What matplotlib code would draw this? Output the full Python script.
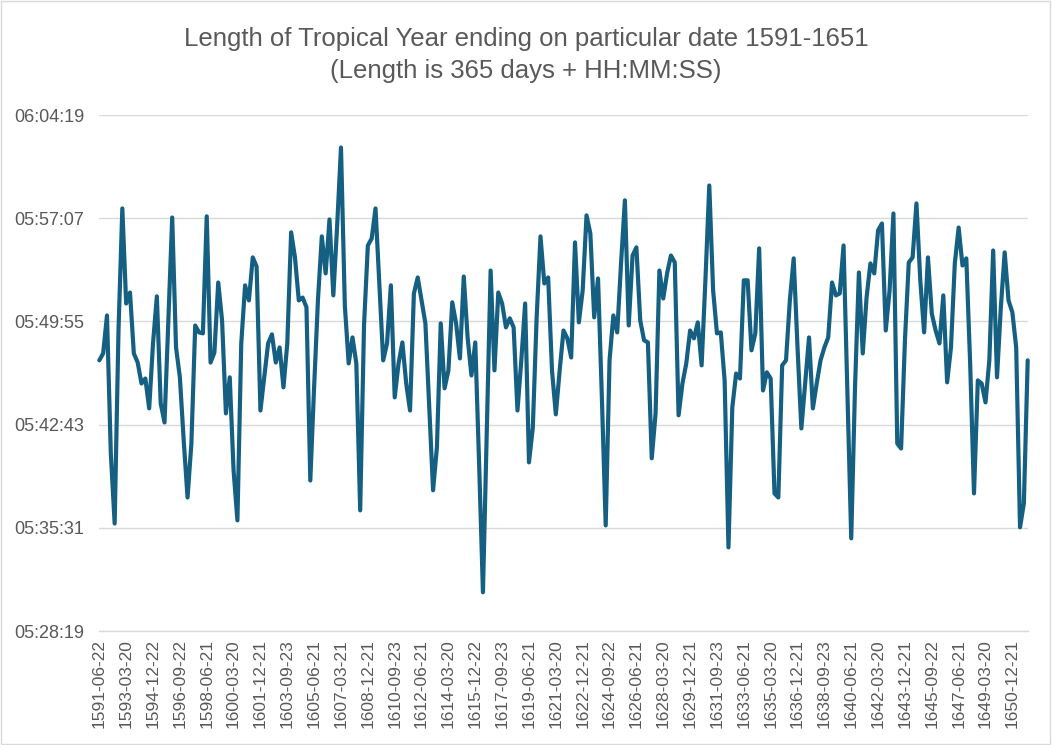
import numpy as np
import matplotlib
matplotlib.use("Agg")
import matplotlib.pyplot as plt
from matplotlib.ticker import FuncFormatter
from matplotlib.patches import Rectangle

plt.rcParams['font.family'] = ['Liberation Sans', 'DejaVu Sans']

# length of year beyond 365 days, one value per quarter date (1591-06-22 ... 1651-12-22)
year_len = [
    "05:47:12", "05:47:41", "05:50:20", "05:40:42", "05:35:49", "05:49:17", "05:57:48", "05:51:10",
    "05:51:56", "05:47:41", "05:47:03", "05:45:35", "05:45:56", "05:43:51", "05:48:23", "05:51:40",
    "05:44:12", "05:42:52", "05:49:59", "05:57:10", "05:48:06", "05:46:01", "05:41:37", "05:37:38",
    "05:41:24", "05:49:38", "05:49:09", "05:49:05", "05:57:15", "05:47:03", "05:47:45", "05:52:38",
    "05:49:59", "05:43:30", "05:46:01", "05:39:31", "05:36:02", "05:48:23", "05:52:26", "05:51:23",
    "05:54:23", "05:53:45", "05:43:42", "05:46:01", "05:48:23", "05:49:01", "05:47:03", "05:48:06",
    "05:45:19", "05:48:23", "05:56:08", "05:54:23", "05:51:23", "05:51:35", "05:50:54", "05:38:49",
    "05:45:23", "05:51:27", "05:55:51", "05:53:16", "05:57:02", "05:51:44", "05:56:37", "06:02:03",
    "05:51:02", "05:46:59", "05:48:48", "05:46:59", "05:36:44", "05:49:38", "05:55:13", "05:55:42",
    "05:57:48", "05:52:34", "05:47:12", "05:48:23", "05:52:26", "05:44:37", "05:46:59", "05:48:27",
    "05:45:35", "05:43:42", "05:51:52", "05:52:59", "05:51:23", "05:49:47", "05:43:55", "05:38:08",
    "05:41:08", "05:49:47", "05:45:15", "05:46:30", "05:51:15", "05:49:47", "05:47:20", "05:53:03",
    "05:48:48", "05:46:09", "05:48:27", "05:40:01", "05:31:01", "05:42:19", "05:53:28", "05:46:30",
    "05:51:56", "05:51:10", "05:49:30", "05:50:08", "05:49:30", "05:43:42", "05:47:12", "05:51:10",
    "05:40:05", "05:42:31", "05:50:12", "05:55:51", "05:52:34", "05:52:59", "05:46:30", "05:43:26",
    "05:46:30", "05:49:17", "05:48:44", "05:47:24", "05:55:26", "05:49:51", "05:52:05", "05:57:19",
    "05:56:03", "05:50:12", "05:52:55", "05:44:37", "05:35:41", "05:47:12", "05:50:20", "05:49:09",
    "05:53:58", "05:58:22", "05:49:38", "05:54:31", "05:55:05", "05:49:59", "05:48:36", "05:48:27",
    "05:40:22", "05:43:30", "05:53:28", "05:51:31", "05:53:16", "05:54:31", "05:54:02", "05:43:22",
    "05:45:35", "05:46:59", "05:49:17", "05:48:44", "05:49:51", "05:46:51", "05:52:51", "05:59:24",
    "05:52:05", "05:49:05", "05:49:09", "05:45:48", "05:34:09", "05:43:55", "05:46:17", "05:45:56",
    "05:52:47", "05:52:47", "05:47:54", "05:49:05", "05:55:01", "05:45:06", "05:46:22", "05:45:56",
    "05:37:55", "05:37:38", "05:46:51", "05:47:12", "05:51:23", "05:54:19", "05:48:06", "05:42:27",
    "05:45:35", "05:48:48", "05:43:51", "05:45:35", "05:47:12", "05:48:06", "05:48:48", "05:52:38",
    "05:51:44", "05:51:52", "05:55:13", "05:45:06", "05:34:47", "05:45:27", "05:53:20", "05:47:41",
    "05:51:35", "05:53:58", "05:53:16", "05:56:16", "05:56:45", "05:49:17", "05:52:05", "05:57:27",
    "05:41:24", "05:41:03", "05:48:36", "05:54:02", "05:54:23", "05:58:09", "05:52:47", "05:49:09",
    "05:54:23", "05:50:28", "05:49:17", "05:48:23", "05:51:44", "05:45:40", "05:48:06", "05:53:58",
    "05:56:28", "05:53:49", "05:54:19", "05:46:59", "05:37:55", "05:45:48", "05:45:35", "05:44:16",
    "05:47:12", "05:54:52", "05:46:01", "05:50:54", "05:54:44", "05:51:23", "05:50:33", "05:48:06",
    "05:35:33", "05:37:13", "05:47:12",
]

# every 7th date is labelled on the axis
date_labels = [
    "1591-06-22", "1593-03-20", "1594-12-22", "1596-09-22", "1598-06-21", "1600-03-20",
    "1601-12-21", "1603-09-23", "1605-06-21", "1607-03-21", "1608-12-21", "1610-09-23",
    "1612-06-21", "1614-03-20", "1615-12-22", "1617-09-23", "1619-06-21", "1621-03-20",
    "1622-12-21", "1624-09-22", "1626-06-21", "1628-03-20", "1629-12-21", "1631-09-23",
    "1633-06-21", "1635-03-20", "1636-12-21", "1638-09-23", "1640-06-21", "1642-03-20",
    "1643-12-21", "1645-09-22", "1647-06-21", "1649-03-20", "1650-12-21",
]
label_step = 7

y_min, y_max, y_step = "05:28:19", "06:04:19", 432


def to_sec(s):
    h, m, sec = map(int, s.split(":"))
    return h * 3600 + m * 60 + sec


def fmt_hms(v, pos=None):
    v = int(round(v))
    return "{:02d}:{:02d}:{:02d}".format(v // 3600, (v % 3600) // 60, v % 60)


x = np.arange(len(year_len))
y = np.array([to_sec(v) for v in year_len])

fig = plt.figure(figsize=(10.52, 7.45), dpi=100)
ax = fig.add_axes([0.0944, 0.153, 0.8825, 0.6926])

ax.plot(x, y, color="#156082", lw=3.0, solid_joinstyle="round",
        solid_capstyle="round", clip_on=False)

lo, hi = to_sec(y_min), to_sec(y_max)
ax.set_ylim(lo, hi)
ax.set_yticks(np.arange(lo, hi + 1, y_step))
ax.yaxis.set_major_formatter(FuncFormatter(fmt_hms))
ax.set_xlim(0, len(year_len) - 1)
ax.set_xticks(np.arange(len(date_labels)) * label_step)
ax.set_xticklabels(date_labels, rotation=90)

ax.yaxis.grid(True, color="#D9D9D9", lw=1.0)
ax.set_axisbelow(True)
for s in ["top", "right", "left"]:
    ax.spines[s].set_visible(False)
ax.spines["bottom"].set_color("#D9D9D9")
ax.spines["bottom"].set_linewidth(1.0)
ax.tick_params(axis="y", length=0, pad=11, labelsize=13, labelcolor="#595959")
ax.tick_params(axis="x", length=0, pad=6, labelsize=12.5, labelcolor="#595959")

fig.text(0.5, 1 - 55 / 745, "Length of Tropical Year ending on particular date 1591-1651\n"
         "(Length is 365 days + HH:MM:SS)", ha="center", va="center",
         fontsize=18.5, color="#595959", linespacing=1.45)

fig.add_artist(Rectangle((0.001, 0.002), 0.997, 0.996, transform=fig.transFigure,
                         fill=False, ec="#D9D9D9", lw=1.0))

fig.savefig("out.png", dpi=100)
